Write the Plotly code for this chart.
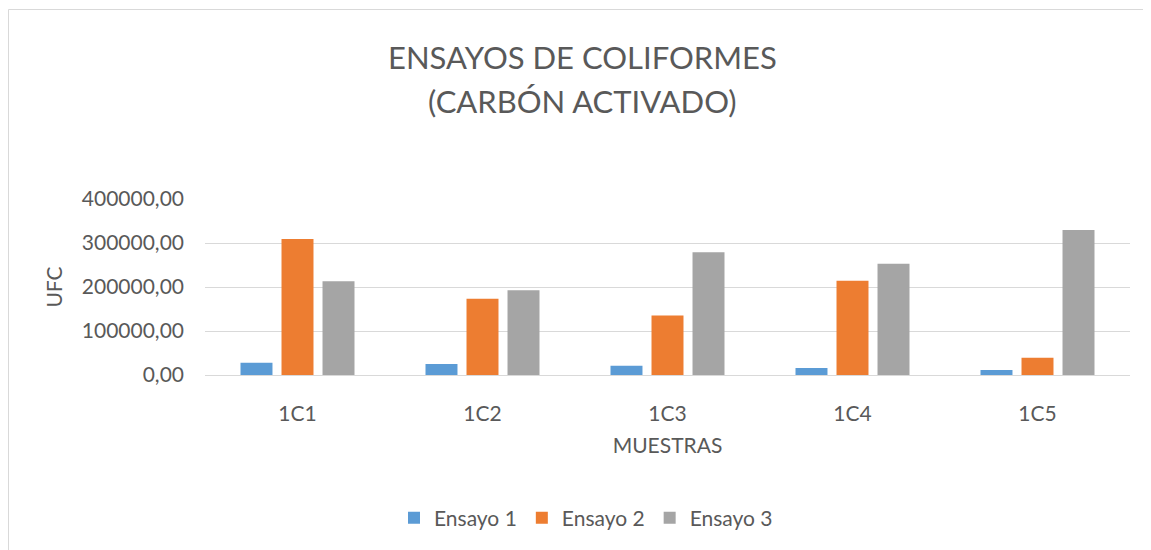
import plotly.graph_objects as go

categories = ["1C1", "1C2", "1C3", "1C4", "1C5"]
ensayo1 = [28000, 25000, 21000, 16000, 11500]
ensayo2 = [309000, 173500, 135000, 214000, 39000]
ensayo3 = [213000, 192500, 279000, 253000, 329500]
series_names = ["Ensayo 1", "Ensayo 2", "Ensayo 3"]
colors = ["#5B9BD5", "#ED7D31", "#A5A5A5"]
tick_vals = [0, 100000, 200000, 300000, 400000]

FONT = "Lato"
TXT = "#595959"

fig = go.Figure()
for name, vals, col in zip(series_names, [ensayo1, ensayo2, ensayo3], colors):
    fig.add_trace(go.Bar(x=categories, y=vals, name=name, marker_color=col,
                         marker_line_width=0))

# page body has an 8px margin; figure coordinates = screen - 8
OFF = 8
W, H = 1151 - OFF, 550 - OFF
L, T = 205 - OFF, 199 - OFF
R = W - (1130 - OFF)
B = H - (375 - OFF)
pw, ph = W - L - R, H - T - B
BOT = 375 - OFF


def py(screen_y):
    return (BOT - (screen_y - OFF)) / ph


def px(screen_x):
    return (screen_x - OFF - L) / pw


fig.update_layout(
    width=W, height=H,
    margin=dict(l=L, r=R, t=T, b=B),
    paper_bgcolor="white", plot_bgcolor="white",
    separators=",.",
    barmode="group", bargap=0.335, bargroupgap=0.22,
    font=dict(family=FONT, color=TXT, size=21),
    showlegend=True,
    legend=dict(orientation="h", x=px(586), xanchor="center", y=py(518),
                yanchor="middle", font=dict(size=21, color=TXT),
                itemwidth=30, tracegroupgap=0),
    xaxis=dict(showgrid=False, showline=False, zeroline=False, ticks="",
               tickfont=dict(size=21, color=TXT), ticklabelstandoff=24,
               title=dict(text="MUESTRAS", font=dict(size=21, color=TXT), standoff=14)),
    yaxis=dict(range=[0, 400000], tickvals=tick_vals, tickformat=".2f",
               showgrid=True, gridcolor="#D9D9D9", gridwidth=1,
               zeroline=True, zerolinecolor="#D9D9D9", zerolinewidth=1,
               showline=False, ticks="", ticklabelstandoff=20,
               tickfont=dict(size=21, color=TXT),
               title=dict(text="UFC", font=dict(size=21, color=TXT), standoff=13)),
    annotations=[
        dict(text="ENSAYOS DE COLIFORMES", x=px(582), xref="paper", xanchor="center",
             y=py(57), yref="paper", yanchor="middle", showarrow=False,
             font=dict(size=31, color=TXT, family=FONT)),
        dict(text="(CARBÓN ACTIVADO)", x=px(582), xref="paper", xanchor="center",
             y=py(101), yref="paper", yanchor="middle", showarrow=False,
             font=dict(size=31, color=TXT, family=FONT)),
    ],
    shapes=[
        dict(type="line", xref="paper", yref="paper",
             x0=(0.5 - L) / pw, x1=(W + 5 - L) / pw, y0=py(9.5), y1=py(9.5),
             line=dict(color="#D9D9D9", width=1)),
        dict(type="line", xref="paper", yref="paper",
             x0=(0.5 - L) / pw, x1=(0.5 - L) / pw, y0=py(9.5), y1=py(H + 20),
             line=dict(color="#D9D9D9", width=1)),
    ],
)

fig.write_html("out.html")
